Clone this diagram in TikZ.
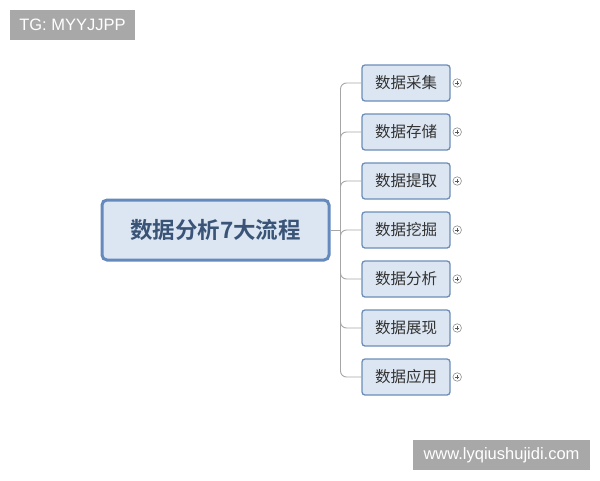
\documentclass[tikz,border=0pt]{standalone}
\usepackage{fontspec}
\setmainfont{Liberation Sans}
\newfontfamily\cjk{Noto Sans CJK SC}
\newfontfamily\cjkbold{Noto Sans CJK SC Bold}
\usetikzlibrary{positioning, calc, shapes}

\definecolor{boxfill}{HTML}{DCE6F2}
\definecolor{boxline}{HTML}{6B8DB8}
\definecolor{mainline}{HTML}{6489BC}
\definecolor{maintext}{HTML}{3A5478}
\definecolor{linkgray}{HTML}{A6A6A6}
\definecolor{markgray}{HTML}{A8A8A8}

\tikzset{
  topic/.style={draw=boxline, line width=1.3pt, fill=boxfill, rounded corners=3pt,
    minimum width=88pt, minimum height=36pt, inner sep=0pt, text=black!80,
    font=\cjk\fontsize{15.5}{15.5}\selectfont},
  root/.style={draw=mainline, line width=3pt, fill=boxfill, rounded corners=5pt,
    minimum width=227pt, minimum height=60pt, inner sep=0pt, text=maintext,
    font=\cjkbold\fontsize{22.5}{22.5}\selectfont},
  link/.style={draw=linkgray, line width=0.9pt, rounded corners=6pt},
  expander/.style={draw=black!45, circle, line width=0.6pt, minimum size=8.5pt, inner sep=0pt,
    path picture={\draw[black!65, line width=0.6pt]
      ($(path picture bounding box.west)+(2pt,0)$) -- ($(path picture bounding box.east)+(-2pt,0)$)
      ($(path picture bounding box.south)+(0,2pt)$) -- ($(path picture bounding box.north)+(0,-2pt)$);}},
  watermark/.style={fill=markgray, text=white, inner sep=0pt, minimum height=30pt,
    font=\fontsize{16.5}{16.5}\selectfont}
}

\begin{document}
\begin{tikzpicture}[x=1pt, y=-1pt]
        \useasboundingbox (0,0) rectangle (600,480);
        % watermarks
        \node[watermark, minimum width=125pt] (tg) at (72.5,25) {TG: MYYJJPP};
        \node[watermark, minimum width=177pt] (site) at (501.5,455) {www.lyqiushujidi.com};
        % central topic
        \node[root] (main) at (215.5,230) {数据分析7大流程};
        % subtopics
        \node[topic] (collect) at (406,83) {数据采集};
        \node[topic, below=11.7pt of collect] (store) {数据存储};
        \node[topic, below=11.7pt of store] (extract) {数据提取};
        \node[topic, below=11.7pt of extract] (mine) {数据挖掘};
        \node[topic, below=11.7pt of mine] (analyse) {数据分析};
        \node[topic, below=11.7pt of analyse] (show) {数据展现};
        \node[topic, below=11.7pt of show] (apply) {数据应用};
        % connectors
        \coordinate (trunk) at ($(main.east)+(10pt,0)$);
        \draw[link] (main.east) -- (trunk);
        \foreach \sub in {collect, store, extract, mine, analyse, show, apply} {
          \draw[link] (trunk) |- (\sub.west);
          \node[expander, right=2pt of \sub.east] (plus-\sub) {};
        }
\end{tikzpicture}
\end{document}
